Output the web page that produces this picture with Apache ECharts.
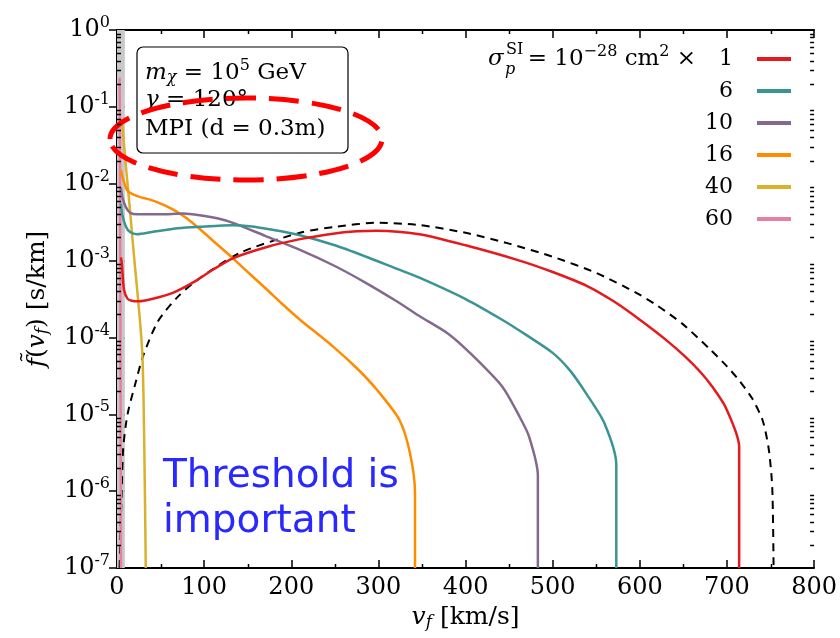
<!DOCTYPE html>
<html lang="en">
<head>
  <meta charset="UTF-8">
  <title>f(v_f) after MPI</title>
  <style>
    html, body { margin: 0; padding: 0; background: #fff; }
    #myEcharts { width: 840px; height: 638px; }
  </style>
  <script src="https://cdn.jsdelivr.net/npm/echarts@6/dist/echarts.min.js"></script>
</head>
<body>
  <div id="myEcharts"></div>
  <script>
    // cross-section multipliers and their colours
    var sigmaLabels = ['1', '6', '10', '16', '40', '60'];
    var sigmaColors = ['#e41a1c', '#3b9494', '#84698f', '#ff8c00', '#d9b12e', '#e87ea3'];

    // sigma x 1
    var vRed = [4.5, 5.5, 8, 12, 17, 25, 40, 64, 90, 110, 133, 172, 210, 248, 275, 298, 347, 400, 462, 500, 539, 570, 600, 630, 653, 670, 683, 699, 714, 714];
    var fRed = [1.1e-3, 9.3e-4, 4.2e-4, 3.2e-4, 3.0e-4, 2.95e-4, 3.16e-4, 3.8e-4, 5.4e-4, 7.6e-4, 1.07e-3, 1.5e-3, 1.9e-3, 2.24e-3, 2.4e-3, 2.45e-3, 2.2e-3, 1.58e-3, 1.0e-3, 7.1e-4, 4.7e-4, 2.95e-4, 1.7e-4, 9.3e-5, 5.5e-5, 3.5e-5, 2.3e-5, 1.2e-5, 3.8e-6, 1e-7];
    // sigma x 6
    var vTeal = [4.5, 6, 10, 15, 23, 40, 70, 95, 133, 152, 180, 210, 250, 286, 320, 347, 400, 442, 470, 500, 520, 538, 559, 573, 573];
    var fTeal = [5.5e-3, 4.0e-3, 2.8e-3, 2.35e-3, 2.2e-3, 2.35e-3, 2.63e-3, 2.75e-3, 2.88e-3, 2.8e-3, 2.5e-3, 2.14e-3, 1.58e-3, 1.12e-3, 7.9e-4, 6.0e-4, 3.16e-4, 1.7e-4, 1.07e-4, 6.3e-5, 3.7e-5, 1.9e-5, 7.8e-6, 2.2e-6, 1e-7];
    // sigma x 10
    var vPurple = [4.5, 6, 10, 15, 23, 50, 76, 95, 115, 133, 170, 210, 250, 286, 320, 347, 380, 405, 442, 462, 473, 483, 483];
    var fPurple = [8.9e-3, 6.8e-3, 5.0e-3, 4.2e-3, 4.0e-3, 4.0e-3, 4.1e-3, 3.9e-3, 3.55e-3, 3.1e-3, 2.1e-3, 1.38e-3, 8.5e-4, 5.1e-4, 3.0e-4, 1.9e-4, 1.12e-4, 6.3e-5, 2.3e-5, 9.3e-6, 5.1e-6, 1.6e-6, 1e-7];
    // sigma x 16
    var vOrange = [4.5, 6, 11, 15, 25, 38, 50, 65, 80, 95, 115, 133, 150, 172, 190, 210, 248, 275, 298, 324, 336, 342, 342];
    var fOrange = [1.51e-2, 1.26e-2, 8.5e-3, 7.6e-3, 6.8e-3, 6.2e-3, 5.5e-3, 4.57e-3, 3.55e-3, 2.57e-3, 1.62e-3, 1.07e-3, 7.1e-4, 4.2e-4, 2.7e-4, 1.7e-4, 7.6e-5, 4.0e-5, 2.1e-5, 8.5e-6, 3.2e-6, 9.5e-7, 1e-7];
    // sigma x 40
    var vGold = [4.5, 6, 10, 15, 20, 26, 29, 30.5, 32, 33];
    var fGold = [7e-2, 5.9e-2, 1.8e-2, 4.4e-3, 1.0e-3, 1.85e-4, 6.3e-5, 1.5e-5, 1e-6, 1e-7];
    // sigma x 60
    var vPink = [3, 3.5, 4, 4.5];
    var fPink = [0.24, 2e-2, 1e-4, 1e-7];
    // free halo distribution (dashed)
    var vFree = [3, 3.5, 5.5, 7, 10, 13, 21, 30, 47, 70, 95, 141, 210, 250, 298, 347, 400, 450, 500, 550, 596, 620, 649, 680, 700, 714, 729, 741, 748, 752, 753.5];
    var fFree = [1e-7, 1.7e-7, 1.15e-6, 3.5e-6, 7.1e-6, 1.12e-5, 2.5e-5, 5.75e-5, 1.62e-4, 3.4e-4, 5.9e-4, 1.26e-3, 2.3e-3, 2.75e-3, 3.1e-3, 2.9e-3, 2.3e-3, 1.66e-3, 1.12e-3, 6.9e-4, 3.8e-4, 2.6e-4, 1.5e-4, 7.1e-5, 4.2e-5, 2.75e-5, 1.6e-5, 8.3e-6, 3.5e-6, 1.1e-6, 1e-7];

    var thresholdBand = [0, 9]; // km/s, grey region
    var xMinor = [50, 150, 250, 350, 450, 550, 650, 750];
    var yMinor = [];
    [1e-7, 1e-6, 1e-5, 1e-4, 1e-3, 1e-2, 1e-1].forEach(function (d) {
      for (var k = 2; k <= 9; k++) yMinor.push(k * d);
    });

    var curves = [
      [vRed, fRed], [vTeal, fTeal], [vPurple, fPurple],
      [vOrange, fOrange], [vGold, fGold], [vPink, fPink]
    ];

    function pairs(vs, fs) {
      return vs.map(function (v, i) { return [v, fs[i]]; });
    }

    var serif = 'DejaVu Serif';
    var rich = {
      t: { fontFamily: serif, fontSize: 23, color: '#000' },
      mi: { fontFamily: serif, fontStyle: 'italic', fontSize: 23, color: '#000' },
      sub: { fontFamily: serif, fontStyle: 'italic', fontSize: 16, color: '#000', padding: [10, 0, 0, 0] },
      sup: { fontFamily: serif, fontSize: 16, color: '#000', padding: [0, 0, 14, 0] }
    };
    var richName = {
      t: { fontFamily: serif, fontSize: 25, color: '#000' },
      mi: { fontFamily: serif, fontStyle: 'italic', fontSize: 25, color: '#000' },
      sub: { fontFamily: serif, fontStyle: 'italic', fontSize: 17, color: '#000', padding: [11, 0, 0, 0] }
    };

    var myChart = echarts.init(document.getElementById('myEcharts'));

    var series = curves.map(function (c, i) {
      return {
        name: sigmaLabels[i],
        type: 'line',
        data: pairs(c[0], c[1]),
        showSymbol: false,
        smooth: 0.25,
        lineStyle: { color: sigmaColors[i], width: 2.5 },
        itemStyle: { color: sigmaColors[i] },
        z: 3 + (5 - i)
      };
    });
    series.unshift({
      name: 'free',
      type: 'line',
      data: pairs(vFree, fFree),
      showSymbol: false,
      smooth: 0.25,
      lineStyle: { color: '#000', width: 2, type: [8, 6] },
      itemStyle: { color: '#000' },
      z: 2,
      markArea: {
        silent: true,
        itemStyle: { color: '#c8c8c8' },
        data: [[{ xAxis: thresholdBand[0] }, { xAxis: thresholdBand[1] }]]
      }
    });

    function xAxisBase(pos) {
      return {
        type: 'value', min: 0, max: 800, interval: 100, position: pos,
        axisLine: { lineStyle: { color: '#000', width: 2 } },
        axisTick: { inside: true, length: 8, lineStyle: { color: '#000', width: 1.5 } },
        splitLine: { show: false },
        axisLabel: { show: false }
      };
    }
    function yAxisBase(pos) {
      return {
        type: 'log', logBase: 10, min: 1e-7, max: 1, position: pos,
        axisLine: { lineStyle: { color: '#000', width: 2 } },
        axisTick: { inside: true, length: 8, lineStyle: { color: '#000', width: 1.5 } },
        splitLine: { show: false },
        axisLabel: { show: false }
      };
    }

    var xBottom = xAxisBase('bottom');
    xBottom.axisLabel = { show: true, margin: 8, color: '#000', fontFamily: serif, fontSize: 24 };
    xBottom.name = '{mi|v}{sub|f}{t| [km/s]}';
    xBottom.nameLocation = 'middle';
    xBottom.nameGap = 33;
    xBottom.nameTextStyle = { rich: richName };

    var yLeft = yAxisBase('left');
    yLeft.axisLabel = {
      show: true, margin: 7,
      formatter: function (v) {
        return '{b|10}{s|' + Math.round(Math.log10(v)) + '}';
      },
      rich: {
        b: { fontFamily: serif, fontSize: 24, color: '#000' },
        s: { fontFamily: serif, fontSize: 16, color: '#000', padding: [0, 0, 14, 0] }
      }
    };
    yLeft.name = '{mi|f\u0303}{t|(}{mi|v}{sub|f}{t|) [s/km]}';
    yLeft.nameLocation = 'middle';
    yLeft.nameGap = 66;
    yLeft.nameRotate = 90;
    yLeft.nameTextStyle = { rich: richName };

    var option = {
      animation: false,
      backgroundColor: '#fff',
      grid: { left: 117, right: 25, top: 30, bottom: 70 },
      xAxis: [xBottom, xAxisBase('top')],
      yAxis: [yLeft, yAxisBase('right')],
      legend: {
        data: sigmaLabels,
        selectedMode: false,
        orient: 'vertical',
        align: 'right',
        right: 49,
        top: 47,
        padding: 0,
        itemGap: 8,
        itemWidth: 34,
        itemHeight: 4,
        icon: 'rect',
        textStyle: { fontFamily: serif, fontSize: 22, color: '#000', lineHeight: 24, padding: [0, 19, 0, 0] }
      },
      graphic: [
        {
          type: 'text', left: 488, top: 44, z: 50,
          style: {
            text: '{mi|σ}{g|}{t|= 10}{sup|−28}{t| cm}{sup|2}{t| ×}',
            rich: {
              mi: rich.mi, t: rich.t, sup: rich.sup,
              g: { width: 24 }
            }
          }
        },
        { type: 'text', x: 506, y: 42, z: 50, style: { text: 'SI', font: '16px "DejaVu Serif"', fill: '#000' } },
        { type: 'text', x: 505, y: 62, z: 50, style: { text: 'p', font: 'italic 16px "DejaVu Serif"', fill: '#000' } },
        {
          type: 'rect', z: 40,
          shape: { x: 137, y: 47, width: 211, height: 106, r: 6 },
          style: { fill: '#fff', stroke: '#000', lineWidth: 1.2 }
        },
        {
          type: 'text', x: 145, y: 58, z: 41,
          style: { text: '{mi|m}{sub|χ}{t| = 10}{sup|5}{t| GeV}', rich: rich }
        },
        {
          type: 'text', x: 145, y: 89, z: 41,
          style: { text: '{mi|γ}{t| = 120°}', rich: rich }
        },
        {
          type: 'text', x: 145, y: 118, z: 41,
          style: { text: 'MPI (d = 0.3m)', font: '23px "DejaVu Serif"', fill: '#000' }
        },
        {
          type: 'ellipse', z: 60,
          shape: { cx: 246, cy: 139, rx: 136, ry: 41 },
          style: { fill: null, stroke: '#ff0000', lineWidth: 5, lineDash: [30, 13] }
        },
        {
          type: 'text', x: 163, y: 454, z: 60,
          style: { text: 'Threshold is\nimportant', font: '39px "DejaVu Sans"', fill: '#2828ff', lineHeight: 45 }
        }
      ],
      series: series
    };

    myChart.setOption(option);

    // minor ticks on all four sides, positioned through the axes' own scales
    var x0 = myChart.convertToPixel({ xAxisIndex: 0 }, 0);
    var x1 = myChart.convertToPixel({ xAxisIndex: 0 }, 800);
    var y0 = myChart.convertToPixel({ yAxisIndex: 0 }, 1e-7);
    var y1 = myChart.convertToPixel({ yAxisIndex: 0 }, 1);
    var tickStyle = { stroke: '#000', lineWidth: 1.5 };
    yMinor.forEach(function (val) {
      var y = Math.round(myChart.convertToPixel({ yAxisIndex: 0 }, val)) + 0.5;
      option.graphic.push({ type: 'line', silent: true, z: 70, shape: { x1: x0, y1: y, x2: x0 + 4, y2: y }, style: tickStyle });
      option.graphic.push({ type: 'line', silent: true, z: 70, shape: { x1: x1 - 4, y1: y, x2: x1, y2: y }, style: tickStyle });
    });
    xMinor.forEach(function (val) {
      var x = Math.round(myChart.convertToPixel({ xAxisIndex: 0 }, val)) + 0.5;
      option.graphic.push({ type: 'line', silent: true, z: 70, shape: { x1: x, y1: y0, x2: x, y2: y0 - 4 }, style: tickStyle });
      option.graphic.push({ type: 'line', silent: true, z: 70, shape: { x1: x, y1: y1, x2: x, y2: y1 + 4 }, style: tickStyle });
    });
    myChart.setOption(option);
  </script>
</body>
</html>
